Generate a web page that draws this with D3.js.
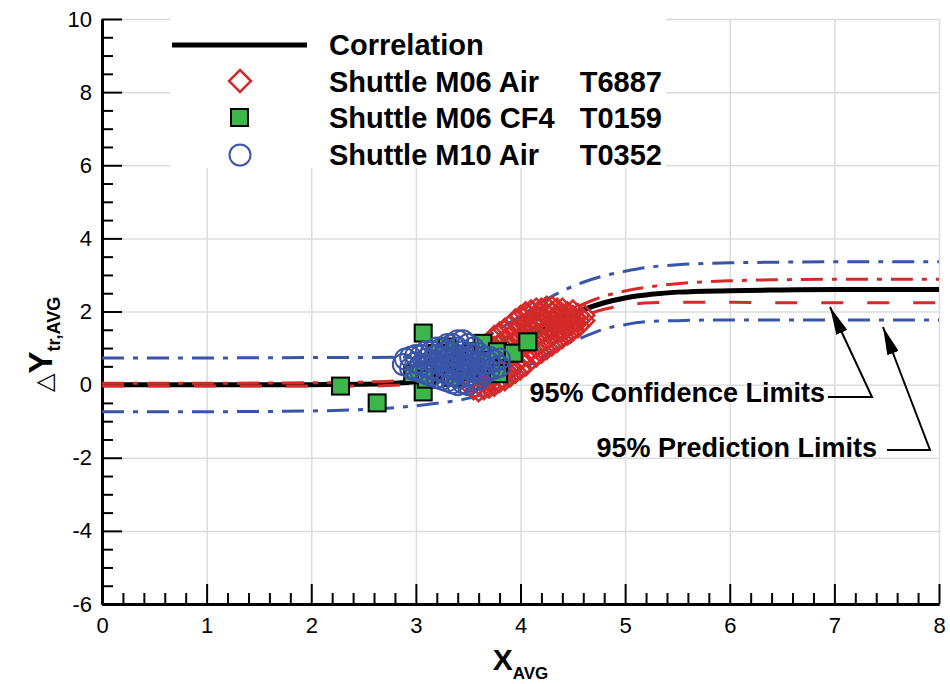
<!DOCTYPE html>
<html lang="en">
<head>
  <meta charset="UTF-8">
  <title>Transition correlation</title>
  <script src="https://d3js.org/d3.v7.min.js"></script>
  <style>
    body { margin: 0; background: #fff; }
    svg { display: block; font-family: "Liberation Sans", Arial, Helvetica, sans-serif; }
    .grid line { stroke: #dcdcdc; stroke-width: 1.5; }
    .grid .domain { display: none; }
    .axis .domain { stroke: #000; stroke-width: 3; }
    .axis line { stroke: #000; stroke-width: 2; }
    .axis text { font-size: 22px; fill: #000; }
    .legend text, .note { font-size: 29px; font-weight: bold; fill: #000; }
  </style>
</head>
<body>
  <div id="chart"></div>

  <script>
    // curves
    const curveX = [0, 1, 2, 2.5, 2.8, 3.0, 3.2, 3.4, 3.6, 3.8, 4.0, 4.2, 4.4, 4.6, 4.8, 5.0, 5.25, 5.5, 6.0, 6.5, 7.0, 8.0];
    const correlation = [0, 0, 0, 0.01, 0.04, 0.08, 0.15, 0.28, 0.48, 0.78, 1.12, 1.48, 1.8, 2.05, 2.24, 2.37, 2.47, 2.53, 2.57, 2.59, 2.6, 2.6];
    const confUpper = [0.04, 0.04, 0.05, 0.07, 0.1, 0.14, 0.21, 0.35, 0.56, 0.87, 1.22, 1.6, 1.94, 2.2, 2.42, 2.56, 2.68, 2.76, 2.84, 2.87, 2.88, 2.88];
    const confLower = [-0.04, -0.04, -0.04, -0.04, -0.02, 0.02, 0.09, 0.21, 0.4, 0.68, 1.0, 1.36, 1.66, 1.88, 2.06, 2.17, 2.24, 2.25, 2.25, 2.24, 2.24, 2.24];
    const predUpper = [0.73, 0.73, 0.74, 0.74, 0.75, 0.77, 0.84, 0.98, 1.2, 1.52, 1.88, 2.25, 2.56, 2.8, 2.98, 3.1, 3.22, 3.28, 3.33, 3.35, 3.36, 3.36];
    const predLower = [-0.74, -0.74, -0.72, -0.68, -0.63, -0.58, -0.51, -0.43, -0.3, -0.05, 0.36, 0.75, 1.06, 1.3, 1.52, 1.64, 1.73, 1.75, 1.77, 1.77, 1.77, 1.77];

    // Shuttle M06 Air T6887  [x, y]
    const airM06 = [
      [3.55, -0.1], [3.55, 0.1],
      [3.6, -0.15], [3.6, 0.05], [3.6, 0.25],
      [3.65, -0.1], [3.65, 0.1], [3.65, 0.3], [3.65, 0.5],
      [3.7, -0.05], [3.7, 0.15], [3.7, 0.4], [3.7, 0.65], [3.7, 0.9],
      [3.75, 0.0], [3.75, 0.25], [3.75, 0.5], [3.75, 0.75], [3.75, 1.0], [3.75, 1.3],
      [3.8, 0.1], [3.8, 0.35], [3.8, 0.6], [3.8, 0.85], [3.8, 1.1], [3.8, 1.4],
      [3.85, 0.15], [3.85, 0.4], [3.85, 0.7], [3.85, 0.95], [3.85, 1.2], [3.85, 1.5],
      [3.9, 0.25], [3.9, 0.5], [3.9, 0.8], [3.9, 1.05], [3.9, 1.3], [3.9, 1.6],
      [3.95, 0.35], [3.95, 0.6], [3.95, 0.9], [3.95, 1.15], [3.95, 1.45], [3.95, 1.75],
      [4.0, 0.45], [4.0, 0.7], [4.0, 1.0], [4.0, 1.25], [4.0, 1.55], [4.0, 1.85],
      [4.05, 0.55], [4.05, 0.85], [4.05, 1.1], [4.05, 1.35], [4.05, 1.65], [4.05, 1.95],
      [4.1, 0.7], [4.1, 0.95], [4.1, 1.2], [4.1, 1.45], [4.1, 1.7], [4.1, 2.0],
      [4.15, 0.8], [4.15, 1.05], [4.15, 1.3], [4.15, 1.55], [4.15, 1.8], [4.15, 2.05],
      [4.2, 0.9], [4.2, 1.15], [4.2, 1.4], [4.2, 1.65], [4.2, 1.85], [4.2, 2.05],
      [4.25, 1.0], [4.25, 1.25], [4.25, 1.5], [4.25, 1.7], [4.25, 1.9], [4.25, 2.1],
      [4.3, 1.1], [4.3, 1.35], [4.3, 1.55], [4.3, 1.75], [4.3, 1.95], [4.3, 2.1],
      [4.35, 1.2], [4.35, 1.45], [4.35, 1.65], [4.35, 1.85], [4.35, 2.05],
      [4.4, 1.3], [4.4, 1.5], [4.4, 1.7], [4.4, 1.9], [4.4, 2.05],
      [4.45, 1.4], [4.45, 1.6], [4.45, 1.8], [4.45, 1.95],
      [4.5, 1.5], [4.5, 1.7], [4.5, 1.85], [4.5, 2.0],
      [4.55, 1.6], [4.55, 1.75], [4.55, 1.9],
      [4.6, 1.75], [4.6, 1.9]
    ];

    // Shuttle M06 CF4 T0159
    const cf4 = [
      [2.28, -0.04], [2.63, -0.5], [3.07, 1.41], [3.07, -0.2], [2.97, 0.3], [3.1, 0.15],
      [3.25, 0.5], [3.3, 1.03], [3.35, 0.2], [3.45, 0.7], [3.5, 0.35], [3.55, 0.9],
      [3.64, 1.13], [3.6, 0.5], [3.7, 0.6], [3.78, 0.9], [3.79, 0.3], [3.93, 0.86],
      [4.07, 1.17], [3.2, 0.85]
    ];

    // Shuttle M10 Air T0352
    const airM10 = [
      [2.88, 0.55], [2.9, 0.7], [2.95, 0.45], [2.95, 0.75],
      [3.0, 0.4], [3.0, 0.6], [3.0, 0.8], [3.05, 0.35], [3.05, 0.55], [3.05, 0.8],
      [3.1, 0.3], [3.1, 0.5], [3.1, 0.7], [3.1, 0.9],
      [3.15, 0.25], [3.15, 0.45], [3.15, 0.65], [3.15, 0.9],
      [3.2, 0.2], [3.2, 0.4], [3.2, 0.6], [3.2, 0.8], [3.2, 1.0],
      [3.25, 0.15], [3.25, 0.35], [3.25, 0.55], [3.25, 0.75], [3.25, 1.0],
      [3.3, 0.1], [3.3, 0.3], [3.3, 0.5], [3.3, 0.7], [3.3, 0.9], [3.3, 1.1],
      [3.35, 0.05], [3.35, 0.25], [3.35, 0.45], [3.35, 0.65], [3.35, 0.85], [3.35, 1.1],
      [3.4, 0.0], [3.4, 0.2], [3.4, 0.4], [3.4, 0.6], [3.4, 0.8], [3.4, 1.0], [3.4, 1.2],
      [3.45, 0.05], [3.45, 0.3], [3.45, 0.5], [3.45, 0.7], [3.45, 0.9], [3.45, 1.2],
      [3.5, 0.0], [3.5, 0.25], [3.5, 0.45], [3.5, 0.65], [3.5, 0.85], [3.5, 1.1],
      [3.55, 0.1], [3.55, 0.35], [3.55, 0.55], [3.55, 0.8], [3.55, 1.0],
      [3.6, 0.15], [3.6, 0.4], [3.6, 0.6], [3.6, 0.85],
      [3.65, 0.3], [3.65, 0.55], [3.65, 0.75],
      [3.7, 0.4], [3.7, 0.6], [3.7, 0.75], [3.75, 0.45], [3.75, 0.65], [3.8, 0.5], [3.8, 0.7]
    ];

    const xMajor = [0, 1, 2, 3, 4, 5, 6, 7, 8];
    const yMajor = [-6, -4, -2, 0, 2, 4, 6, 8, 10];

    const width = 950;
    const height = 684;
    const red = "#d42a2a";
    const blue = "#3a55a8";
    const green = "#3eb54a";

    const svg = d3.select("#chart")
      .append("svg")
      .attr("width", width)
      .attr("height", height);

    svg.append("rect").attr("width", width).attr("height", height).attr("fill", "#fff");

    const x = d3.scaleLinear().domain([0, 8]).range([102, 939]);
    const y = d3.scaleLinear().domain([-6, 10]).range([604, 19]);

    const xMinor = d3.range(0, 8.001, 0.2).map(v => +v.toFixed(1)).filter(v => !xMajor.includes(v));
    const yMinor = d3.range(-6, 10.001, 0.5).filter(v => !yMajor.includes(v));
    const plain = d => String(d);

    // grid
    svg.append("g")
      .attr("class", "grid")
      .attr("transform", `translate(0, ${y(-6)})`)
      .call(d3.axisBottom(x).tickValues(xMajor.slice(1)).tickSize(-(y(-6) - y(10))).tickFormat(""));
    svg.append("g")
      .attr("class", "grid")
      .attr("transform", `translate(${x(0)}, 0)`)
      .call(d3.axisLeft(y).tickValues(yMajor.slice(1)).tickSize(-(x(8) - x(0))).tickFormat(""));

    // legend box hides the grid
    svg.append("rect")
      .attr("x", 170).attr("y", 14)
      .attr("width", 496).attr("height", 154)
      .attr("fill", "#fff");

    // axes, ticks pointing inward
    svg.append("g")
      .attr("class", "axis")
      .attr("transform", `translate(0, ${y(-6)})`)
      .call(d3.axisBottom(x).tickValues(xMinor).tickSize(-11).tickSizeOuter(0).tickFormat(""));
    const xAxis = svg.append("g")
      .attr("class", "axis")
      .attr("transform", `translate(0, ${y(-6)})`)
      .call(d3.axisBottom(x).tickValues(xMajor).tickSize(-20).tickSizeOuter(0).tickFormat(plain));
    xAxis.selectAll(".tick text").attr("y", 12).attr("dy", "0.76em");

    svg.append("g")
      .attr("class", "axis")
      .attr("transform", `translate(${x(0)}, 0)`)
      .call(d3.axisLeft(y).tickValues(yMinor).tickSize(-11).tickSizeOuter(0).tickFormat(""));
    svg.append("g")
      .attr("class", "axis")
      .attr("transform", `translate(${x(0)}, 0)`)
      .call(d3.axisLeft(y).tickValues(yMajor).tickSize(-20).tickSizeOuter(0).tickPadding(10).tickFormat(plain));

    // curves first, markers drawn over them
    const line = d3.line()
      .x(d => x(d[0]))
      .y(d => y(d[1]))
      .curve(d3.curveMonotoneX);
    const pts = arr => curveX.map((v, i) => [v, arr[i]]);

    const curves = [
      { values: correlation, color: "#000", width: 5, dash: null },
      { values: predUpper, color: blue, width: 3, dash: "22,9,5,9" },
      { values: predLower, color: blue, width: 3, dash: "22,9,5,9" },
      { values: confUpper, color: red, width: 3, dash: "22,9,5,9" },
      { values: confLower, color: red, width: 3, dash: "22,24" }
    ];
    svg.append("g")
      .selectAll("path")
      .data(curves)
      .join("path")
      .attr("d", d => line(pts(d.values)))
      .attr("fill", "none")
      .attr("stroke", d => d.color)
      .attr("stroke-width", d => d.width)
      .attr("stroke-dasharray", d => d.dash);

    const diamond = "M0,-11L11,0L0,11L-11,0Z";
    svg.append("g")
      .selectAll("path")
      .data(airM06)
      .join("path")
      .attr("d", diamond)
      .attr("transform", d => `translate(${x(d[0])}, ${y(d[1])})`)
      .attr("fill", "none")
      .attr("stroke", red)
      .attr("stroke-width", 2.5);

    svg.append("g")
      .selectAll("rect")
      .data(cf4)
      .join("rect")
      .attr("x", d => x(d[0]) - 8.5)
      .attr("y", d => y(d[1]) - 8.5)
      .attr("width", 17)
      .attr("height", 17)
      .attr("fill", green)
      .attr("stroke", "#000")
      .attr("stroke-width", 2);

    svg.append("g")
      .selectAll("circle")
      .data(airM10)
      .join("circle")
      .attr("cx", d => x(d[0]))
      .attr("cy", d => y(d[1]))
      .attr("r", 10.5)
      .attr("fill", "none")
      .attr("stroke", blue)
      .attr("stroke-width", 2);

    // axis titles
    const xt = svg.append("text")
      .attr("x", x(4))
      .attr("y", 670)
      .attr("text-anchor", "middle")
      .style("font-weight", "bold");
    xt.append("tspan").style("font-size", "30px").text("X");
    xt.append("tspan").style("font-size", "17px").attr("dy", 9).text("AVG");

    const yt = svg.append("text")
      .attr("transform", "translate(52, 392) rotate(-90)")
      .style("font-weight", "bold");
    yt.append("tspan").style("font-family", "DejaVu Sans").style("font-weight", "normal").style("font-size", "24px").text("\u25B3");
    yt.append("tspan").style("font-size", "33px").text("Y");
    yt.append("tspan").style("font-size", "18px").attr("dy", 8).text("tr,AVG");

    // legend
    const legend = svg.append("g").attr("class", "legend");
    legend.append("line")
      .attr("x1", 172).attr("x2", 307).attr("y1", 45).attr("y2", 45)
      .attr("stroke", "#000").attr("stroke-width", 5);
    legend.append("path").attr("d", diamond).attr("transform", "translate(240, 81)")
      .attr("fill", "none").attr("stroke", red).attr("stroke-width", 2.5);
    legend.append("rect").attr("x", 231).attr("y", 109).attr("width", 17).attr("height", 17)
      .attr("fill", green).attr("stroke", "#000").attr("stroke-width", 2);
    legend.append("circle").attr("cx", 240).attr("cy", 155).attr("r", 10.5)
      .attr("fill", "none").attr("stroke", blue).attr("stroke-width", 2);

    const legendRows = [
      ["Correlation", "", 55],
      ["Shuttle M06 Air", "T6887", 92],
      ["Shuttle M06 CF4", "T0159", 128],
      ["Shuttle M10 Air", "T0352", 165]
    ];
    legendRows.forEach(r => {
      legend.append("text").attr("x", 329).attr("y", r[2]).text(r[0]);
      legend.append("text").attr("x", 662).attr("y", r[2]).attr("text-anchor", "end").text(r[1]);
    });

    // annotations
    svg.append("defs").append("marker")
      .attr("id", "head")
      .attr("viewBox", "0 0 28 12")
      .attr("refX", 28).attr("refY", 6)
      .attr("markerWidth", 28).attr("markerHeight", 12)
      .attr("markerUnits", "userSpaceOnUse")
      .attr("orient", "auto")
      .append("path")
      .attr("d", "M0,0L28,6L0,12Z")
      .attr("fill", "#000");

    const notes = [
      { text: "95% Confidence Limits", tx: 825, ty: 402, path: [[828, 397], [872, 397], [830, 307]] },
      { text: "95% Prediction Limits", tx: 877, ty: 457, path: [[887, 450], [930, 450], [883, 327]] }
    ];
    notes.forEach(n => {
      svg.append("text").attr("class", "note")
        .attr("x", n.tx).attr("y", n.ty)
        .attr("text-anchor", "end")
        .style("font-size", "27px")
        .text(n.text);
      svg.append("path")
        .attr("d", d3.line()(n.path))
        .attr("fill", "none")
        .attr("stroke", "#000")
        .attr("stroke-width", 2)
        .attr("marker-end", "url(#head)");
    });
  </script>
</body>
</html>
